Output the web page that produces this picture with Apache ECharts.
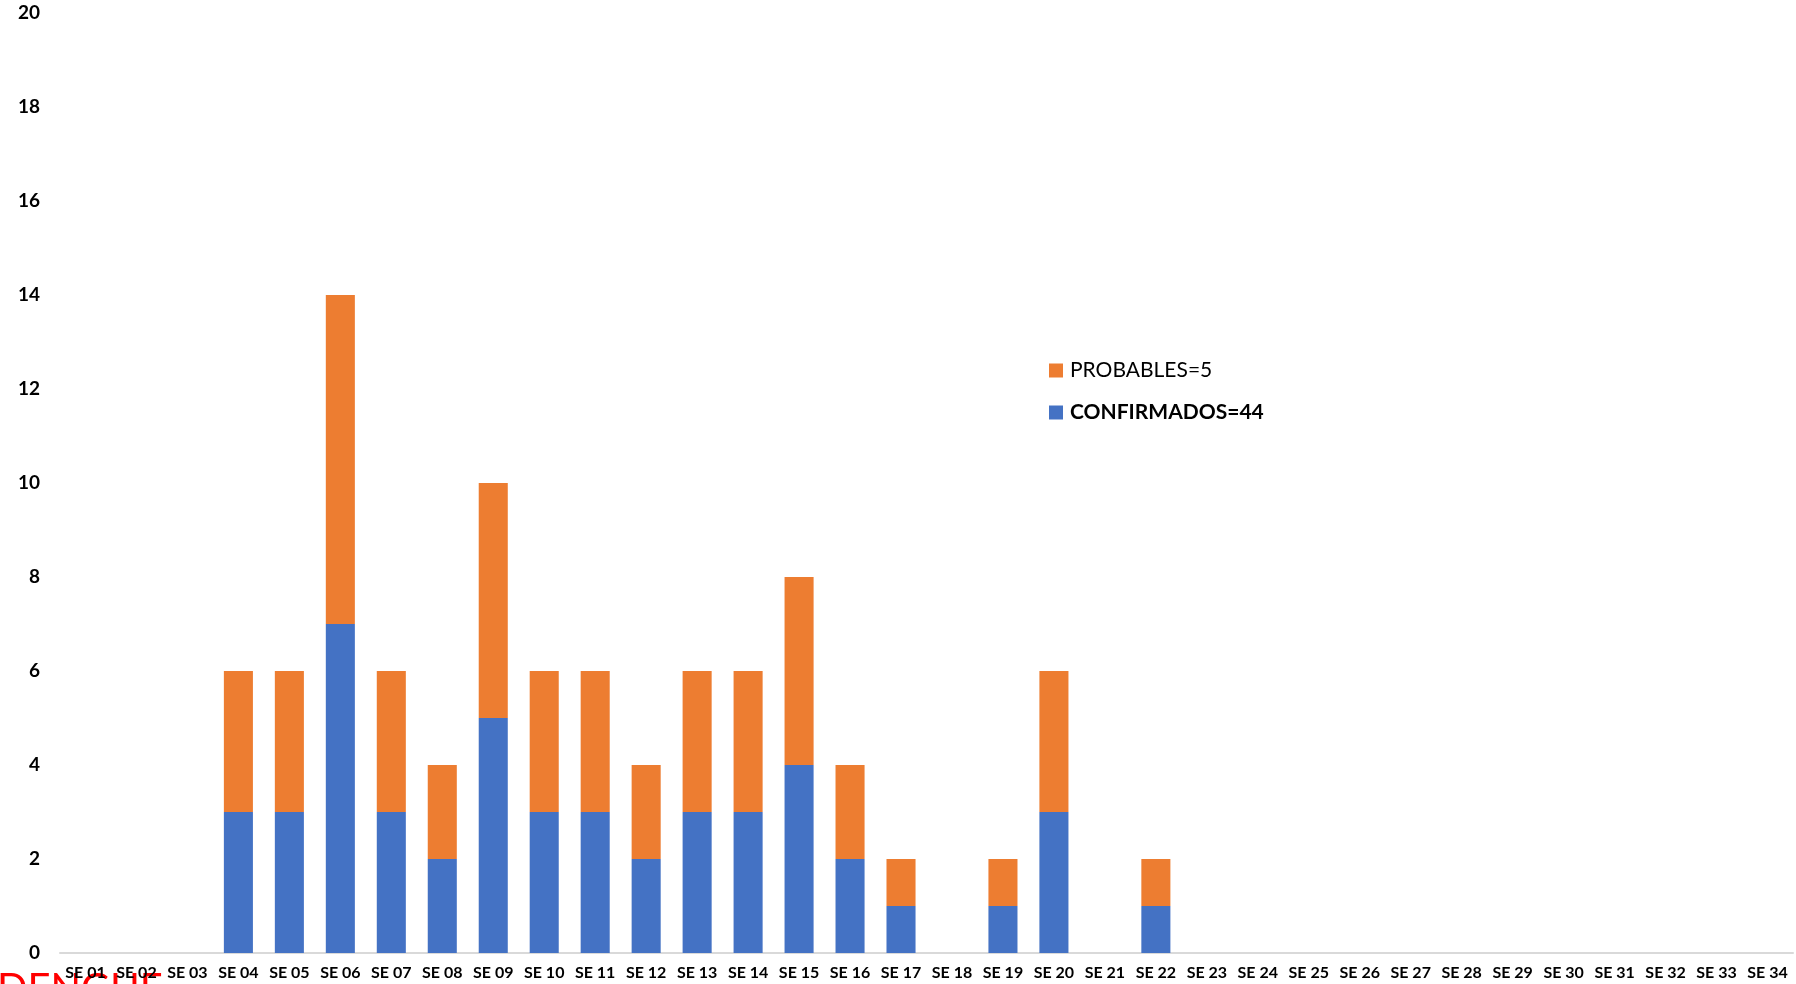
<!DOCTYPE html>
<html>
<head>
<meta charset="utf-8">
<script src="https://cdn.jsdelivr.net/npm/echarts@6/dist/echarts.min.js"></script>
<style>html,body{margin:0;padding:0;background:#fff;}#c{width:1796px;height:984px;}</style>
</head>
<body>
<div id="c"></div>
<script>
const categories = ['SE 01','SE 02','SE 03','SE 04','SE 05','SE 06','SE 07','SE 08','SE 09','SE 10','SE 11','SE 12','SE 13','SE 14','SE 15','SE 16','SE 17','SE 18','SE 19','SE 20','SE 21','SE 22','SE 23','SE 24','SE 25','SE 26','SE 27','SE 28','SE 29','SE 30','SE 31','SE 32','SE 33','SE 34'];
const confirmados = [0,0,0,3,3,7,3,2,5,3,3,2,3,3,4,2,1,0,1,3,0,1,0,0,0,0,0,0,0,0,0,0,0,0];
const probables   = [0,0,0,3,3,7,3,2,5,3,3,2,3,3,4,2,1,0,1,3,0,1,0,0,0,0,0,0,0,0,0,0,0,0];
const seriesNames = ['CONFIRMADOS=44','PROBABLES=5'];
const yTicks = {min:0, max:20, interval:2};

const chart = echarts.init(document.getElementById('c'));
chart.setOption({
  animation:false,
  backgroundColor:'#fff',
  textStyle:{fontFamily:'Lato'},
  graphic:[{
    type:'text', left:-3, top:969, z:-1,
    style:{text:'DENGUE', fill:'#ff0000', font:'40px Lato'}
  }],
  grid:{left:60, right:3, top:13, bottom:31, containLabel:false},
  legend:{
    orient:'vertical', left:1044, top:355, itemGap:21,
    itemWidth:14, itemHeight:14, icon:'rect',
    data:[seriesNames[1], seriesNames[0]],
    formatter:function(n){ return n===seriesNames[0] ? '{b|'+n+'}' : '{r|'+n+'}'; },
    textStyle:{fontFamily:'Lato', fontSize:21, color:'#000', padding:[0,0,0,2],
      rich:{b:{fontWeight:'bold', fontSize:21, fontFamily:'Lato', color:'#000'},
            r:{fontSize:21, fontFamily:'Lato', color:'#000'}}}
  },
  xAxis:{
    type:'category', data:categories,
    axisLine:{lineStyle:{color:'#d9d9d9', width:2}},
    axisTick:{show:false},
    axisLabel:{interval:0, margin:12, fontSize:16, fontWeight:'bold', color:'#000', fontFamily:'Lato'}
  },
  yAxis:{
    type:'value', min:yTicks.min, max:yTicks.max, interval:yTicks.interval,
    splitLine:{show:false}, axisLine:{show:false}, axisTick:{show:false},
    axisLabel:{margin:20, fontSize:19, fontWeight:'bold', color:'#000', fontFamily:'Lato'}
  },
  series:[
    {name:seriesNames[0], type:'bar', stack:'t', data:confirmados, barWidth:'57%',
     itemStyle:{color:'#4472c4'}},
    {name:seriesNames[1], type:'bar', stack:'t', data:probables, barWidth:'57%',
     itemStyle:{color:'#ed7d31'}}
  ]
});
</script>
</body>
</html>
